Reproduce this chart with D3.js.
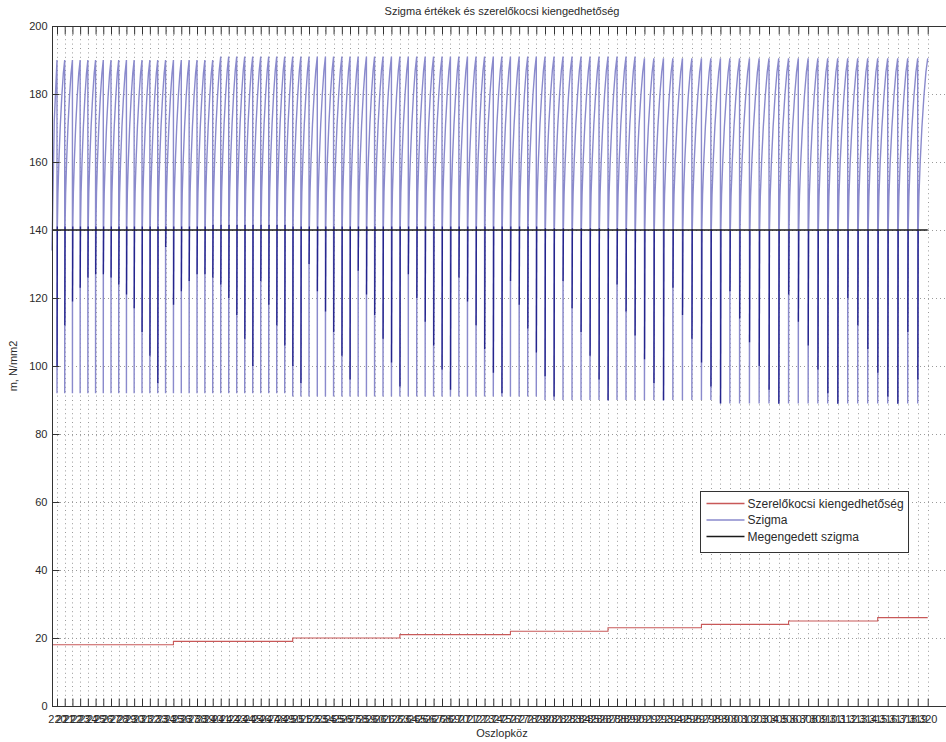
<!DOCTYPE html>
<html>
<head>
<meta charset="utf-8">
<script src="https://cdn.jsdelivr.net/npm/d3@7"></script>
<style>
  body { margin: 0; background: #fff; }
  svg { display: block; font-family: "Liberation Sans", Arial, Helvetica, sans-serif; }
</style>
</head>
<body>
<svg id="chart" width="946" height="742"></svg>
<script>
// ---- data -------------------------------------------------------------
// pole numbers (x tick labels), one per pole
const poleLabels = [
  "220","221","222","223","224","225","226","227","228","229",
  "230","231","232","233","234","235","236","237","238","239",
  "240","241","242","243","244","245","246","247","248","249",
  "250","251","252","253","254","255","256","257","258","259",
  "260","261","262","263","264","265","266","267","268","269",
  "270","271","272","273","274","275","276","277","278","279",
  "280","281","282","283","284","285","286","287","288","289",
  "290","291","292","293","294","295","296","297","298","299",
  "300","301","302","303","304","305","306","307","308","309",
  "310","311","312","313","314","315","316","317","318","319",
  "320"
];
// span lengths between consecutive poles, m
const spanLengths = [
  54,54,54,54,54,54,54,54,54,54,
  55,55,55,55,55,55,55,55,55,55,
  56,56,56,56,56,56,56,56,56,56,
  57,57,58,57,57,58,57,57,58,57,
  59,59,59,59,59,59,59,59,59,59,
  60,60,60,61,60,60,61,60,60,61,
  63,63,63,63,63,63,63,63,63,63,
  66,66,67,66,67,66,67,66,67,66,
  68,69,68,69,68,69,68,69,68,69,
  70,70,70,70,70,70,70,70,70,70
];
// section before the first pole: length (m) and sigma at its start / end
const leadInLength = 35;
const leadInSigma = [134, 190];
// sigma at the end of each span (peak before the pole), N/mm2
const sigmaMax = [
  190,190,190,190,190,190,190,190,190,190,
  190,190,190,190,190,190,190,190,190,190,
  191,191,191,191,191,191,191,191,191,191,
  191,191,191,191,191,191,191,191,191,191,
  191,191,191,191,191,191,191,191,191,191,
  191,191,191,191,191,191,191,191,191,191,
  191,191,191,191,191,191,191,191,191,191,
  190.5,190.5,190.5,190.5,190.5,190.5,190.5,190.5,190.5,190.5,
  190.5,190.5,190.5,190.5,190.5,190.5,190.5,190.5,190.5,190.5,
  190.5,190.5,190.5,190.5,190.5,190.5,190.5,190.5,190.5,190.5
];
// sigma just after each pole (lowest value), N/mm2
const sigmaMin = [
  92,92,92,92,92,92,92,92,92,92,
  92,92,92,92,92,92,92,92,92,92,
  92,92,92,92,92,92,92,92,92,92,
  91,91,91,91,91,91,91,91,91,91,
  91,91,91,91,91,91,91,91,91,91,
  91,91,91,91,91,91,91,91,91,91,
  90,90,90,90,90,90,90,90,90,90,
  90,90,90,90,90,90,90,90,90,90,
  89,89,89,89,89,89,89,89,89,89,
  89,89,89,89,89,89,89,89,89,89
];
// first computed sigma value after each pole, N/mm2
const sigmaFirst = [
  100,112,119,123,126,127,127,126,124,121,117,110,103,95,
  135,118,122,125,127,127,126,124,120,115,108,100,
  125,118,112,106,100,95,
  130,122,116,110,103,96,
  128,121,115,108,101,94,
  127,120,113,106,99,93,
  126,119,112,105,98,92,
  125,118,111,104,97,91,
  125,117,110,103,96,90,
  124,116,109,102,95,90,
  123,115,108,101,94,89,
  122,114,107,100,93,89,
  121,113,106,99,92,89,
  120,112,105,98,91,89,110,96
];
// shape of the sigma rise inside a span: position (share of span) and
// rise (share of min..max); the second point is the first computed value
const toothPos  = [0, 0.012, 0.045, 0.12, 0.25, 0.42, 0.62, 0.82, 1];
const toothRise = [0, null, 0.5, 0.6, 0.7, 0.8, 0.89, 0.96, 1];
// installation trolley release values per span
const kiengedhetoseg = [
  18,18,18,18,18,18,18,18,18,18,18,18,18,18,18,
  19,19,19,19,19,19,19,19,19,19,19,19,19,19,19,
  20,20,20,20,20,20,20,20,20,20,20,20,20,
  21,21,21,21,21,21,21,21,21,21,21,21,21,
  22,22,22,22,22,22,22,22,22,22,22,
  23,23,23,23,23,23,23,23,23,23,
  24,24,24,24,24,24,24,24,24,
  25,25,25,25,25,25,25,25,25,
  26,26,26,26,26
];
const megengedettSzigma = 140;
const yTicks = [0, 20, 40, 60, 80, 100, 120, 140, 160, 180, 200];
const xLimits = [0, 6300];
const yLimits = [0, 200];

const titleText = "Szigma értékek és szerelőkocsi kiengedhetőség";
const xLabelText = "Oszlopköz";
const yLabelText = "m, N/mm2";
const legendNames = ["Szerelőkocsi kiengedhetőség", "Szigma", "Megengedett szigma"];

// ---- layout -----------------------------------------------------------
const plot = { left: 52, top: 26, right: 952, bottom: 706 };
const col = {
  axis: "#333", text: "#2a2a2a", grid: "#9a9a9a",
  red: "#c85858", blue: "#8a8acc", blueDark: "#25258c", black: "#1a1a1a"
};

const svg = d3.select("#chart");
const x = d3.scaleLinear().domain(xLimits).range([plot.left, plot.right]);
const y = d3.scaleLinear().domain(yLimits).range([plot.bottom, plot.top]);

// pole positions along the line
const polePos = [leadInLength];
spanLengths.forEach((L, i) => polePos.push(polePos[i] + L));

// ---- grid ---------------------------------------------------------------
const grid = svg.append("g");
grid.selectAll("line.v").data(polePos).join("line")
  .attr("x1", d => Math.round(x(d)) + 0.5).attr("x2", d => Math.round(x(d)) + 0.5)
  .attr("y1", plot.top).attr("y2", plot.bottom)
  .attr("stroke", col.grid).attr("stroke-width", 1).attr("stroke-dasharray", "1,3.4");
grid.selectAll("line.h").data(yTicks.filter(v => v > yLimits[0] && v < yLimits[1])).join("line")
  .attr("x1", plot.left).attr("x2", plot.right)
  .attr("y1", d => Math.round(y(d)) + 0.5).attr("y2", d => Math.round(y(d)) + 0.5)
  .attr("stroke", col.grid).attr("stroke-width", 1).attr("stroke-dasharray", "1,3");

// ---- series -------------------------------------------------------------
const line = d3.line().x(d => x(d[0])).y(d => y(d[1]));

// installation trolley release (step line)
const redPts = [[0, kiengedhetoseg[0]]];
kiengedhetoseg.forEach((v, i) => redPts.push([polePos[i], v]));
redPts.push([polePos[polePos.length - 1], kiengedhetoseg[kiengedhetoseg.length - 1]]);
svg.append("path").attr("d", d3.line().x(d => x(d[0])).y(d => y(d[1])).curve(d3.curveStepAfter)(redPts))
  .attr("fill", "none").attr("stroke", col.red).attr("stroke-width", 1.1);

// sigma sawtooth
const sigPts = [[0, leadInSigma[0]], [leadInLength * 0.45, 172], [leadInLength, leadInSigma[1]]];
const darkSegs = [];
spanLengths.forEach((L, i) => {
  const p = polePos[i];
  const lo = sigmaMin[i], hi = sigmaMax[i];
  sigPts.push([p, lo]);
  toothPos.forEach((t, k) => {
    if (k === 0) return;
    const v = toothRise[k] === null ? sigmaFirst[i] : lo + toothRise[k] * (hi - lo);
    sigPts.push([p + t * L, v]);
  });
  darkSegs.push([[p + toothPos[1] * L, sigmaFirst[i]], [p + toothPos[2] * L, lo + toothRise[2] * (hi - lo)]]);
});
svg.append("path").attr("d", line(sigPts))
  .attr("fill", "none").attr("stroke", col.blue).attr("stroke-width", 1.4);
svg.append("g").selectAll("path").data(darkSegs).join("path")
  .attr("d", line).attr("fill", "none").attr("stroke", col.blueDark).attr("stroke-width", 1.3);

// allowed sigma
svg.append("path").attr("d", line([[0, megengedettSzigma], [polePos[polePos.length - 1], megengedettSzigma]]))
  .attr("fill", "none").attr("stroke", col.black).attr("stroke-width", 1.3);

// ---- axes ---------------------------------------------------------------
const ax = svg.append("g").attr("stroke", col.axis).attr("stroke-width", 1);
ax.append("rect").attr("x", plot.left + 0.5).attr("y", plot.top + 0.5)
  .attr("width", plot.right - plot.left).attr("height", plot.bottom - plot.top).attr("fill", "none");

// x ticks at every pole, bottom and top, pointing inwards
const xAxisB = d3.axisBottom(x).tickValues(polePos).tickSizeInner(-8).tickSizeOuter(0)
  .tickFormat((d, i) => poleLabels[i]);
const gxb = svg.append("g").attr("transform", `translate(0,${plot.bottom + 0.5})`).call(xAxisB);
gxb.select(".domain").remove();
gxb.selectAll(".tick line").attr("stroke", col.axis);
gxb.selectAll(".tick text").attr("y", 9).attr("fill", col.text)
  .attr("font-size", 11).attr("font-family", "Liberation Sans, Arial, sans-serif");

const xAxisT = d3.axisTop(x).tickValues(polePos).tickSizeInner(-8).tickSizeOuter(0).tickFormat("");
const gxt = svg.append("g").attr("transform", `translate(0,${plot.top + 0.5})`).call(xAxisT);
gxt.select(".domain").remove();
gxt.selectAll(".tick line").attr("stroke", col.axis);

// y ticks on the left, inward
const yAxis = d3.axisLeft(y).tickValues(yTicks).tickSizeInner(-7).tickSizeOuter(0).tickFormat(d3.format("d"));
const gy = svg.append("g").attr("transform", `translate(${plot.left + 0.5},0)`).call(yAxis);
gy.select(".domain").remove();
gy.selectAll(".tick line").attr("stroke", col.axis);
gy.selectAll(".tick text").attr("x", -5).attr("fill", col.text)
  .attr("font-size", 11).attr("font-family", "Liberation Sans, Arial, sans-serif");

// ---- titles -------------------------------------------------------------
const midX = (plot.left + plot.right) / 2;
svg.append("text").attr("x", midX).attr("y", 15).attr("text-anchor", "middle")
  .attr("font-size", 11).attr("fill", col.text).text(titleText);
svg.append("text").attr("x", midX).attr("y", 737).attr("text-anchor", "middle")
  .attr("font-size", 11).attr("fill", col.text).text(xLabelText);
svg.append("text").attr("transform", `translate(17,${(plot.top + plot.bottom) / 2}) rotate(-90)`)
  .attr("text-anchor", "middle").attr("font-size", 11).attr("fill", col.text).text(yLabelText);

// ---- legend -------------------------------------------------------------
const lg = svg.append("g").attr("transform", "translate(700.5,491.5)");
lg.append("rect").attr("width", 208).attr("height", 61).attr("fill", "#fff").attr("stroke", col.axis);
const legendColors = [col.red, col.blue, col.black];
legendNames.forEach((name, i) => {
  const yy = 12 + i * 16.5;
  lg.append("line").attr("x1", 6).attr("x2", 44).attr("y1", yy).attr("y2", yy)
    .attr("stroke", legendColors[i]).attr("stroke-width", 1.3);
  lg.append("text").attr("x", 47).attr("y", yy + 4).attr("font-size", 12)
    .attr("fill", col.text).text(name);
});
</script>
</body>
</html>
